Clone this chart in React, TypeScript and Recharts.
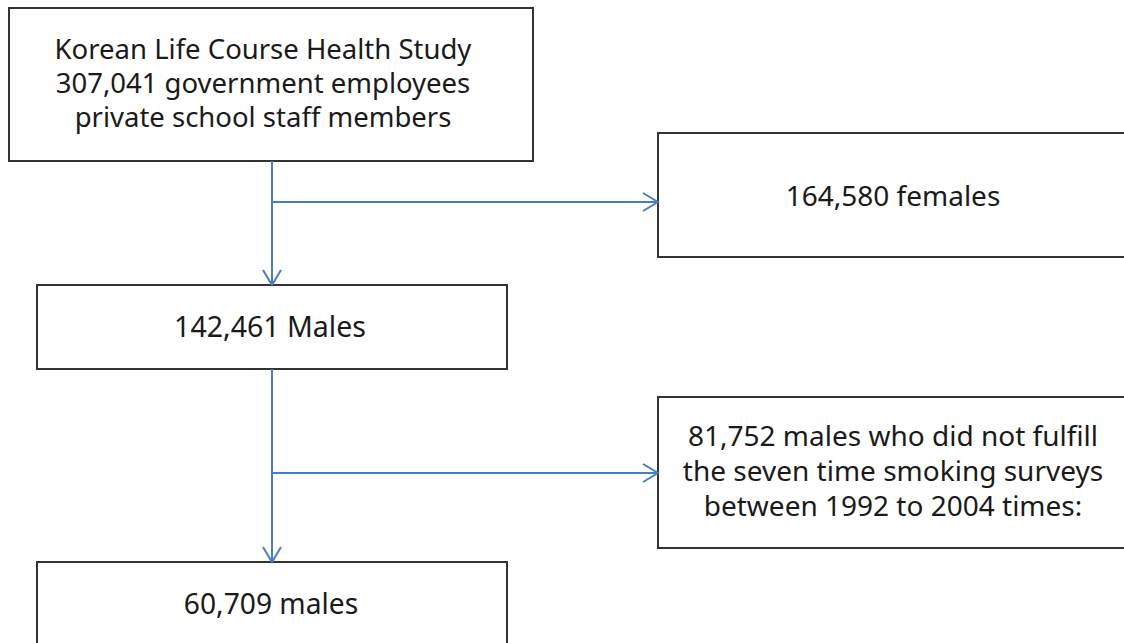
import React from 'react';
import { ComposedChart, XAxis, YAxis, ReferenceArea, ReferenceLine, Scatter } from 'recharts';

// flowchart boxes, in page units (x right, y down)
const boxLabels = [
  ['Korean Life Course Health Study', '307,041 government employees', 'private school staff members'],
  ['164,580 females'],
  ['142,461 Males'],
  ['81,752 males who did not fulfill', 'the seven time smoking surveys', 'between 1992 to 2004 times:'],
  ['60,709 males'],
];

// layout
const boxLeft = [9, 658, 37, 658, 37];
const boxRight = [533, 1140, 507, 1140, 507];
const boxTop = [8, 133, 285, 397, 562];
const boxBottom = [161, 257, 369, 548, 660];
const labelCenter = [263, 893, 270, 893, 271];
const labelBaselines = [[59, 93, 127], [206], [337], [446, 481, 516], [614]];
const labelSize = [27.5, 28, 28.5, 28, 28.2];

// connectors, arrow head at the "to" end
const arrowFrom = [[272, 161], [272, 202], [272, 369], [272, 473]];
const arrowTo = [[272, 285], [658, 202], [272, 562], [658, 473]];
const arrowDir = ['down', 'right', 'down', 'right'];

const textPoints = boxLabels.flatMap((lines, i) =>
  lines.map((t, j) => ({ x: labelCenter[i], y: labelBaselines[i][j], text: t, size: labelSize[i] }))
);
const tipPoints = arrowTo.map((p, i) => ({ x: p[0], y: p[1], dir: arrowDir[i] }));

const BLUE = '#4a7ebb';

const LabelShape = (props: any) => {
  const { cx, cy, payload } = props;
  return (
    <text
      x={cx}
      y={cy}
      textAnchor="middle"
      fontFamily="'Noto Sans', sans-serif"
      fontSize={payload.size}
      fill="#1a1a1a"
    >
      {payload.text}
    </text>
  );
};

const ArrowShape = (props: any) => {
  const { cx, cy, payload } = props;
  const d =
    payload.dir === 'down'
      ? `M${cx - 9},${cy - 15} L${cx},${cy} L${cx + 9},${cy - 15}`
      : `M${cx - 15},${cy - 9} L${cx},${cy} L${cx - 15},${cy + 9}`;
  return <path d={d} fill="none" stroke={BLUE} strokeWidth={2} />;
};

const App = () => {
  return (
    <div style={{ position: 'absolute', left: 0, top: 0, background: '#fff' }}>
      <ComposedChart width={1124} height={643} margin={{ top: 0, right: 0, bottom: 0, left: 0 }}>
        <XAxis type="number" dataKey="x" domain={[0, 1124]} hide allowDataOverflow />
        <YAxis type="number" dataKey="y" domain={[0, 643]} reversed hide allowDataOverflow />
        {boxLabels.map((_, i) => (
          <ReferenceArea
            key={'box' + i}
            x1={boxLeft[i]}
            x2={boxRight[i]}
            y1={boxTop[i]}
            y2={boxBottom[i]}
            ifOverflow="hidden"
            fill="#fff"
            fillOpacity={1}
            stroke="#333"
            strokeWidth={2}
          />
        ))}
        {arrowFrom.map((p, i) => (
          <ReferenceLine
            key={'ln' + i}
            segment={[
              { x: p[0], y: p[1] },
              { x: arrowTo[i][0], y: arrowTo[i][1] },
            ]}
            stroke={BLUE}
            strokeWidth={2}
            ifOverflow="visible"
          />
        ))}
        <Scatter data={tipPoints} dataKey="y" shape={ArrowShape} isAnimationActive={false} />
        <Scatter data={textPoints} dataKey="y" shape={LabelShape} isAnimationActive={false} />
      </ComposedChart>
    </div>
  );
};

export default App;
